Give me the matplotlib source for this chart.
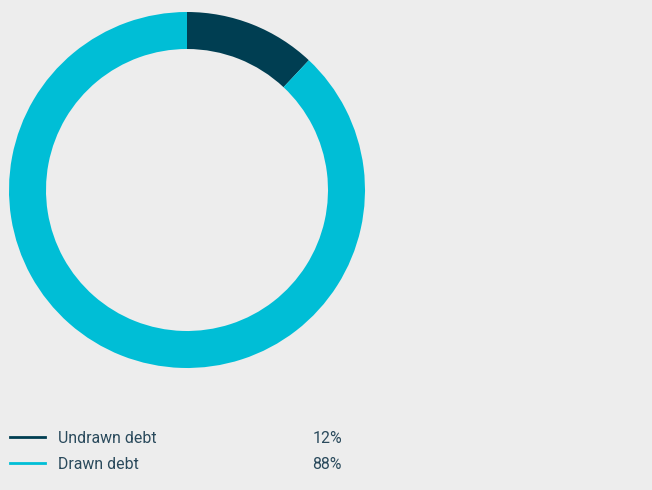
import matplotlib.pyplot as plt
from matplotlib.lines import Line2D

# Debt split
labels = ['Undrawn debt', 'Drawn debt']
shares = [12, 88]
colors = ['#003e52', '#00bed6']

bg = '#ededed'
text_color = '#2a4a5c'

fig = plt.figure(figsize=(6.52, 4.9), dpi=100)
fig.patch.set_facecolor(bg)

W, H = 652, 490
ax = fig.add_axes([9 / W, (H - 368) / H, 356 / W, 356 / H])
ax.set_facecolor(bg)
ax.pie(shares, colors=colors, startangle=90, counterclock=False, radius=1,
       wedgeprops=dict(width=37 / 178, linewidth=0))
ax.set_xlim(-1, 1)
ax.set_ylim(-1, 1)
ax.set_aspect('equal')
ax.axis('off')

# Legend rows drawn by hand
rows_y = [437, 463]
for lab, val, col, y in zip(labels, shares, colors, rows_y):
    fy = (H - y) / H
    fig.add_artist(Line2D([10 / W, 45 / W], [fy, fy], color=col, lw=2,
                          transform=fig.transFigure))
    fig.text(58 / W, fy - 1 / H, lab, color=text_color, fontsize=11.4,
             family='Roboto', va='center', ha='left')
    fig.text(342 / W, fy - 1 / H, f'{val}%', color=text_color, fontsize=11.4,
             family='Roboto', va='center', ha='right')

fig.savefig('out.png', dpi=100, facecolor=bg)
